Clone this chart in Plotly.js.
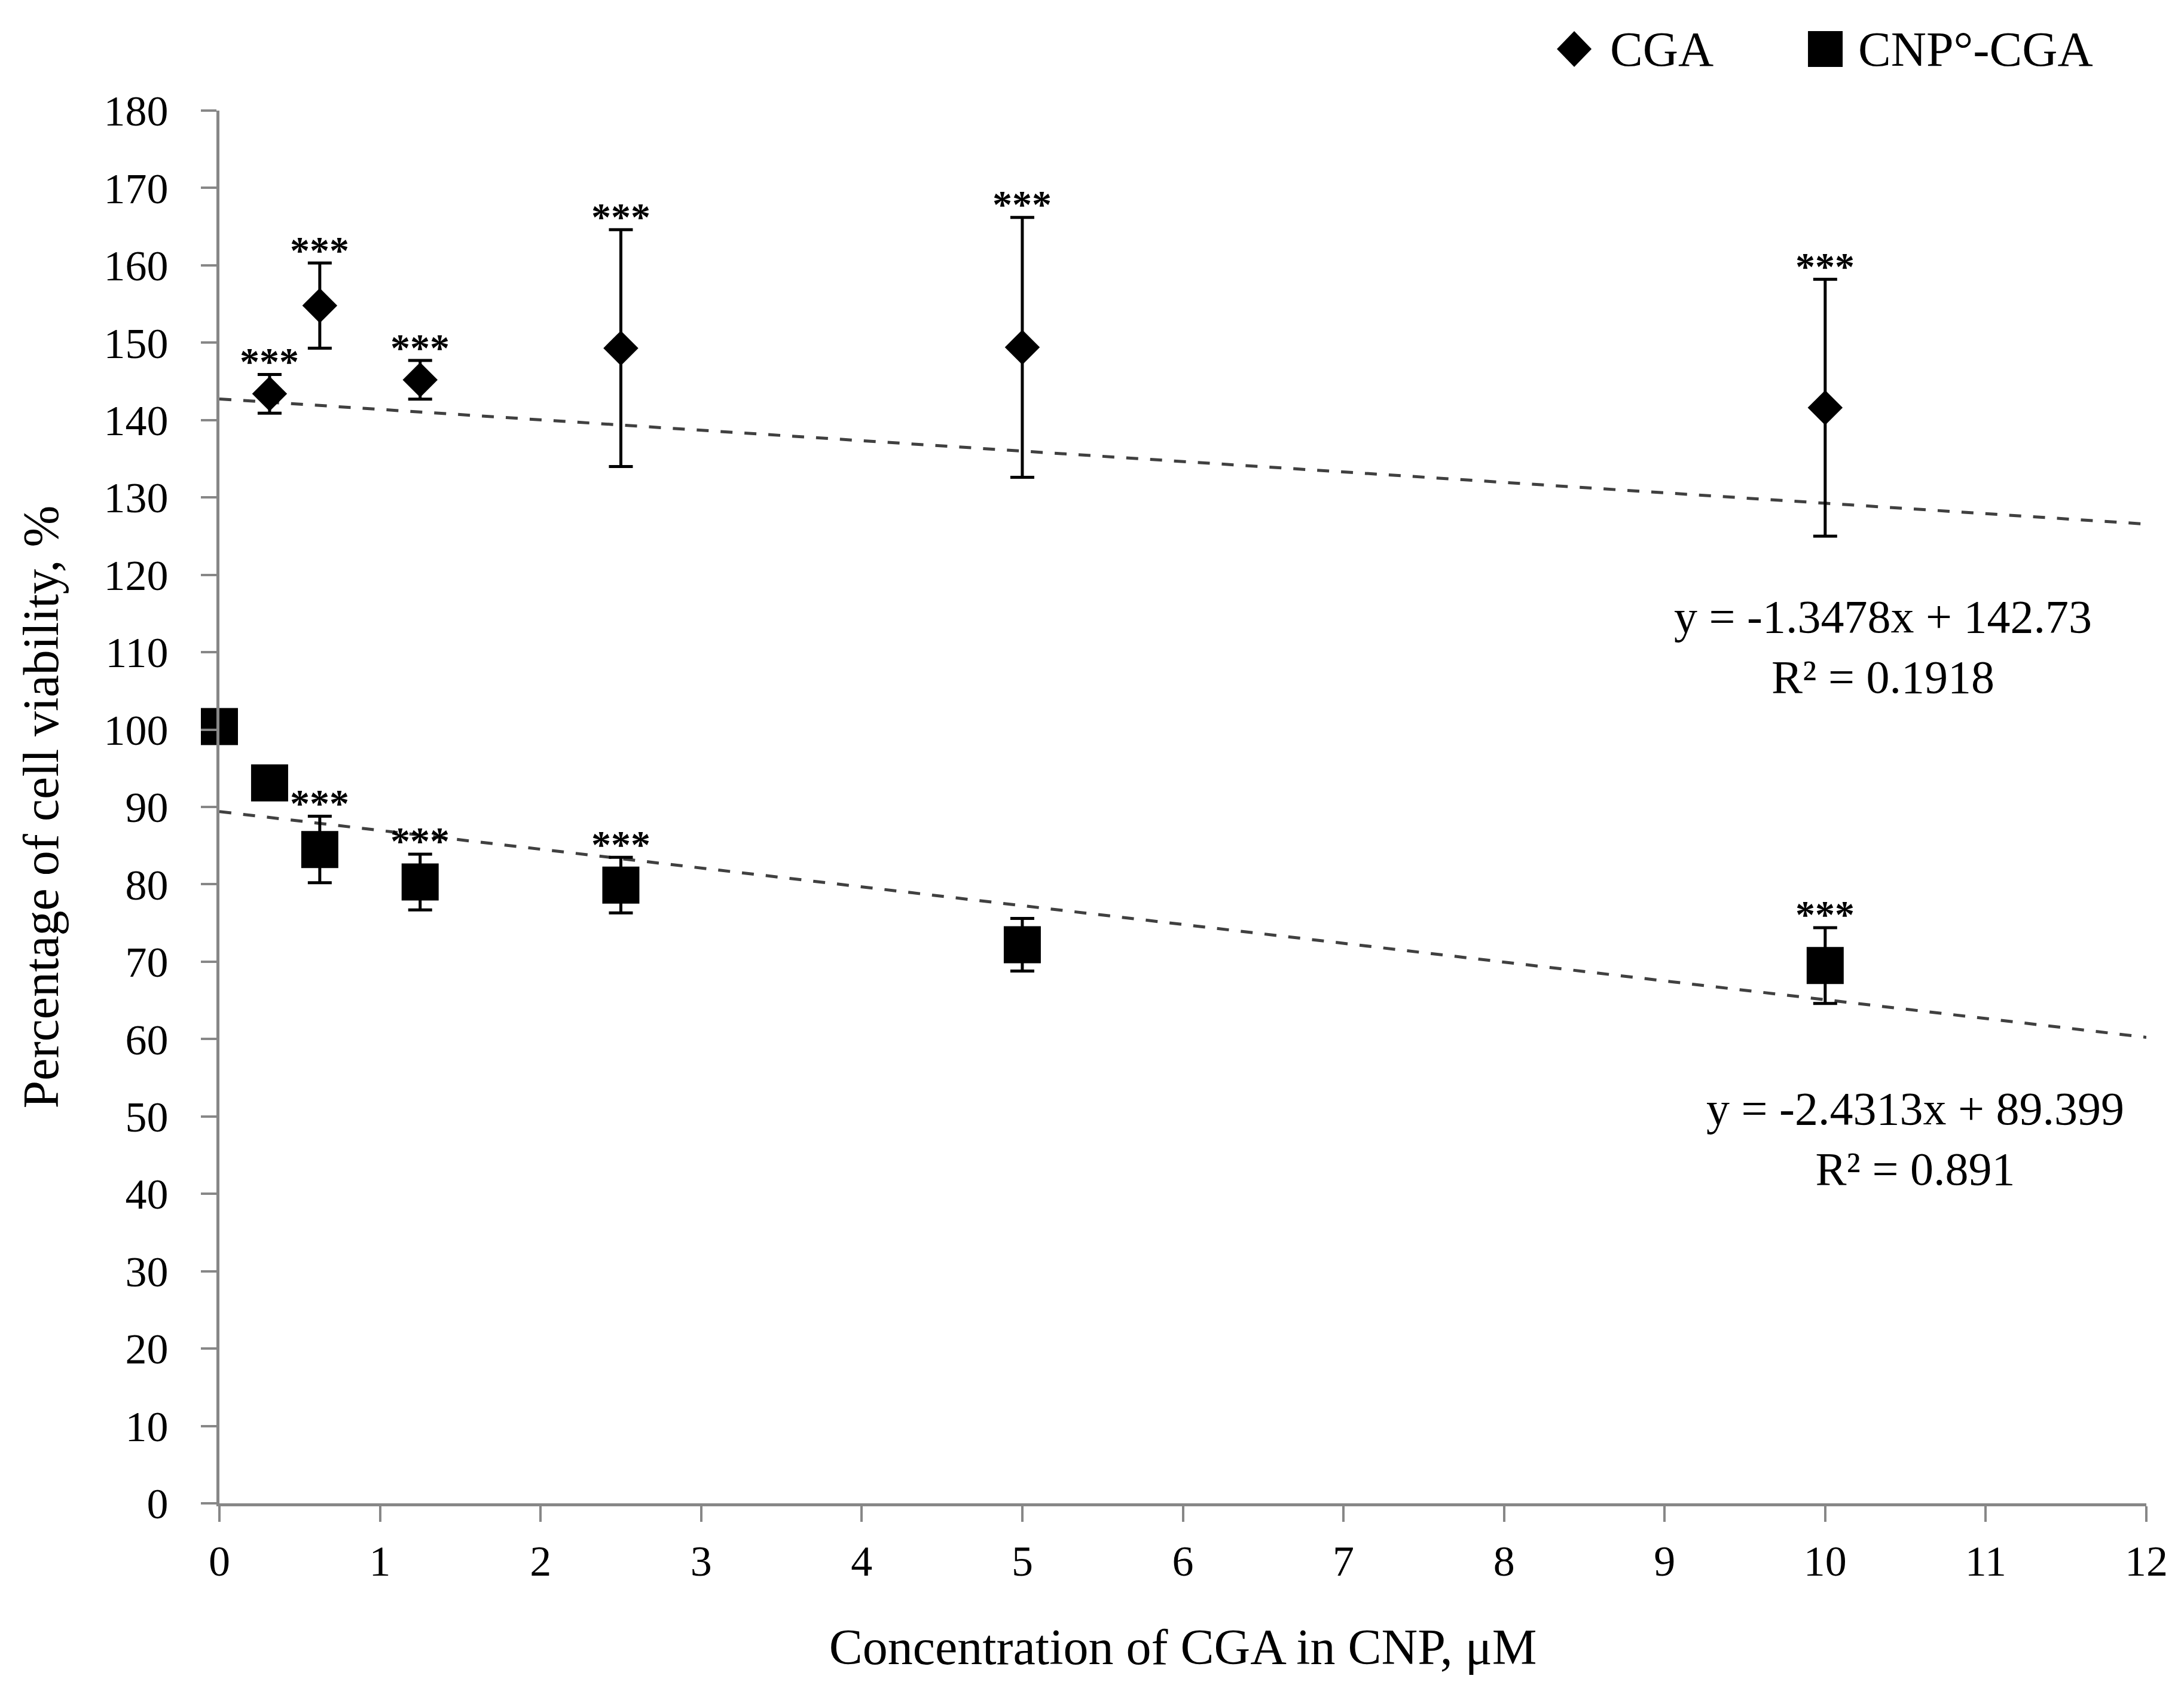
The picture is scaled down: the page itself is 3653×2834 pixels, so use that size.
<!DOCTYPE html>
<html>
<head>
<meta charset="utf-8">
<script src="https://cdn.plot.ly/plotly-3.0.1.min.js"></script>
<style>
  html, body { margin: 0; padding: 0; background: #ffffff; }
  #chart { width: 3653px; height: 2834px; }
</style>
</head>
<body>
<div id="chart"></div>
<script>
// ---- data ----
const concCGA = [0.3125, 0.625, 1.25, 2.5, 5, 10];
const viabilityCGA = [143.4, 154.8, 145.2, 149.3, 149.4, 141.6];
const sdCGA = [2.5, 5.5, 2.5, 15.3, 16.8, 16.6];
const sigCGA = ['***', '***', '***', '***', '***', '***'];

const concCNP = [0, 0.3125, 0.625, 1.25, 2.5, 5, 10];
const viabilityCNP = [100.4, 93.1, 84.5, 80.3, 79.9, 72.2, 69.5];
const sdCNP = [0, 0, 4.3, 3.6, 3.6, 3.4, 4.9];
const sigCNP = ['', '', '***', '***', '***', '', '***'];

const seriesNames = ['CGA', 'CNP°-CGA'];
const trendSlopes = [-1.3478, -2.4313];
const trendIntercepts = [142.73, 89.399];
const trendR2 = ['0.1918', '0.891'];
const trendLabelX = [10.36, 10.56];
const trendLabelY = [110.7, 47.1];
const trendRangeX = [0, 12];

const xTitle = 'Concentration of CGA in CNP, μM';
const yTitle = 'Percentage of cell viability, %';

// ---- styling ----
const FONT = 'Liberation Serif, Times New Roman, serif';
const AXIS_GRAY = '#878787';

const traces = [];

// trendlines
for (let i = 0; i < 2; i++) {
  traces.push({
    type: 'scatter', mode: 'lines',
    x: trendRangeX,
    y: trendRangeX.map(v => trendSlopes[i] * v + trendIntercepts[i]),
    line: { color: '#404040', width: 5, dash: '20px,20px' },
    hoverinfo: 'skip', showlegend: false, cliponaxis: false
  });
}

traces.push({
  type: 'scatter', mode: 'markers', name: seriesNames[0],
  x: concCGA, y: viabilityCGA,
  marker: { symbol: 'diamond', size: 45, color: '#000000', line: { width: 0 } },
  error_y: { type: 'data', array: sdCGA, visible: true, color: '#000000', thickness: 5, width: 20 },
  cliponaxis: false, showlegend: false
});

traces.push({
  type: 'scatter', mode: 'markers', name: seriesNames[1],
  x: concCNP, y: viabilityCNP,
  marker: { symbol: 'square', size: 62, color: '#000000', line: { width: 0 } },
  error_y: { type: 'data', array: sdCNP, visible: true, color: '#000000', thickness: 5, width: 20 },
  cliponaxis: false, showlegend: false
});

const annotations = [];

function addStars(xs, ys, sds, sigs) {
  for (let i = 0; i < xs.length; i++) {
    if (!sigs[i]) continue;
    annotations.push({
      x: xs[i], y: ys[i] + sds[i], xref: 'x', yref: 'y',
      text: '<b>' + sigs[i] + '</b>', showarrow: false,
      xanchor: 'center', yanchor: 'middle', yshift: 22,
      font: { family: FONT, size: 66, color: '#000000' }
    });
  }
}
addStars(concCGA, viabilityCGA, sdCGA, sigCGA);
addStars(concCNP, viabilityCNP, sdCNP, sigCNP);

for (let i = 0; i < 2; i++) {
  annotations.push({
    x: trendLabelX[i], y: trendLabelY[i], xref: 'x', yref: 'y',
    text: 'y = ' + trendSlopes[i] + 'x + ' + trendIntercepts[i] + '<br>R² = ' + trendR2[i],
    showarrow: false, align: 'center', xanchor: 'center', yanchor: 'middle',
    font: { family: FONT, size: 78, color: '#000000' }
  });
}

// legend (drawn as keys + labels so the symbols can match the reference size)
const legendY = 1.0442;
const legendTextX = [0.7211, 0.8498];
const legendKeyX = [0.7031, 0.8334];
for (let i = 0; i < 2; i++) {
  annotations.push({
    x: legendTextX[i], y: legendY, xref: 'paper', yref: 'paper',
    text: seriesNames[i], showarrow: false, xanchor: 'left', yanchor: 'middle',
    font: { family: FONT, size: 82, color: '#000000' }
  });
}
const shapes = [
  {
    type: 'path', xref: 'paper', yref: 'paper',
    xsizemode: 'pixel', ysizemode: 'pixel',
    xanchor: legendKeyX[0], yanchor: legendY,
    path: 'M 0,-30 L 29,0 L 0,30 L -29,0 Z',
    fillcolor: '#000000', line: { width: 0 }
  },
  {
    type: 'rect', xref: 'paper', yref: 'paper',
    xsizemode: 'pixel', ysizemode: 'pixel',
    xanchor: legendKeyX[1], yanchor: legendY,
    x0: -29, x1: 29, y0: -30, y1: 30,
    fillcolor: '#000000', line: { width: 0 }
  }
];

const layout = {
  width: 3653, height: 2834,
  paper_bgcolor: '#ffffff', plot_bgcolor: '#ffffff',
  margin: { l: 367, r: 63, t: 185, b: 319, pad: 0 },
  showlegend: false,
  font: { family: FONT, color: '#000000' },
  xaxis: {
    range: [0, 12], dtick: 1, tick0: 0,
    showgrid: false, zeroline: false,
    showline: true, linecolor: AXIS_GRAY, linewidth: 5,
    ticks: 'outside', ticklen: 26, tickwidth: 4, tickcolor: AXIS_GRAY,
    tickfont: { family: FONT, size: 72, color: '#000000' },
    ticklabelstandoff: 4,
    title: { text: xTitle, font: { family: FONT, size: 84, color: '#000000' }, standoff: 75 }
  },
  yaxis: {
    range: [0, 180], dtick: 10, tick0: 0,
    showgrid: false, zeroline: false,
    showline: true, linecolor: AXIS_GRAY, linewidth: 5,
    ticks: 'outside', ticklen: 26, tickwidth: 4, tickcolor: AXIS_GRAY,
    tickfont: { family: FONT, size: 72, color: '#000000' },
    ticklabelstandoff: 40,
    title: { text: yTitle, font: { family: FONT, size: 84, color: '#000000' }, standoff: 50 }
  },
  annotations: annotations,
  shapes: shapes
};

Plotly.newPlot('chart', traces, layout, { displayModeBar: false, staticPlot: true });
</script>
</body>
</html>
